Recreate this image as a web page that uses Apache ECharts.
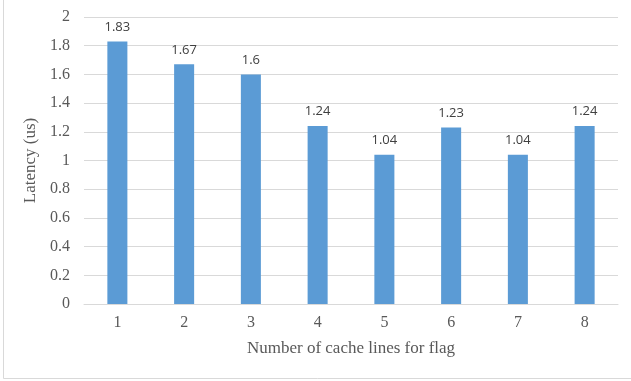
<!DOCTYPE html>
<html>
<head>
<meta charset="utf-8">
<script src="https://cdn.jsdelivr.net/npm/echarts@6/dist/echarts.min.js"></script>
<style>
  html, body { margin: 0; padding: 0; background: #ffffff; }
  #chart { width: 631px; height: 381px; }
</style>
</head>
<body>
<div id="chart"></div>
<script>
// Cache-line counts for the flag and the measured latency for each
const categories = ['1', '2', '3', '4', '5', '6', '7', '8'];
const latency = [1.83, 1.67, 1.6, 1.24, 1.04, 1.23, 1.04, 1.24];
const yTicks = [0, 0.2, 0.4, 0.6, 0.8, 1, 1.2, 1.4, 1.6, 1.8, 2];

const serif = '"Liberation Serif", "DejaVu Serif", serif';
const chart = echarts.init(document.getElementById('chart'), null, { renderer: 'canvas' });

chart.setOption({
  animation: false,
  backgroundColor: '#ffffff',
  grid: { left: 84, right: 13, top: 17, bottom: 77, containLabel: false },
  graphic: [
    { type: 'line', shape: { x1: 3.5, y1: 0, x2: 3.5, y2: 378.5 }, style: { stroke: '#d9d9d9', lineWidth: 1 } },
    { type: 'line', shape: { x1: 3.5, y1: 378.5, x2: 631, y2: 378.5 }, style: { stroke: '#d9d9d9', lineWidth: 1 } }
  ],
  xAxis: {
    type: 'category',
    data: categories,
    name: 'Number of cache lines for flag',
    nameLocation: 'middle',
    nameGap: 36,
    nameTextStyle: { fontFamily: serif, fontSize: 17, color: '#595959' },
    axisLine: { show: true, lineStyle: { color: '#d9d9d9', width: 1 } },
    axisTick: { show: false },
    axisLabel: { fontFamily: serif, fontSize: 16, color: '#595959', margin: 11 }
  },
  yAxis: {
    type: 'value',
    min: 0,
    max: yTicks[yTicks.length - 1],
    interval: 0.2,
    name: 'Latency (us)',
    nameLocation: 'middle',
    nameGap: 43,
    nameRotate: 90,
    nameTextStyle: { fontFamily: serif, fontSize: 17, color: '#595959' },
    axisLine: { show: false },
    axisTick: { show: false },
    splitLine: { lineStyle: { color: '#d9d9d9', width: 1 } },
    axisLabel: {
      fontFamily: serif, fontSize: 16, color: '#595959', margin: 14,
      formatter: function (v) { return String(Math.round(v * 10) / 10); }
    }
  },
  series: [{
    type: 'bar',
    data: latency,
    barWidth: '30%',
    itemStyle: { color: '#5b9bd5' },
    label: {
      show: true,
      position: 'top',
      distance: 8,
      fontFamily: '"Open Sans", "Liberation Sans", sans-serif',
      fontSize: 13,
      color: '#404040'
    }
  }]
});
</script>
</body>
</html>
